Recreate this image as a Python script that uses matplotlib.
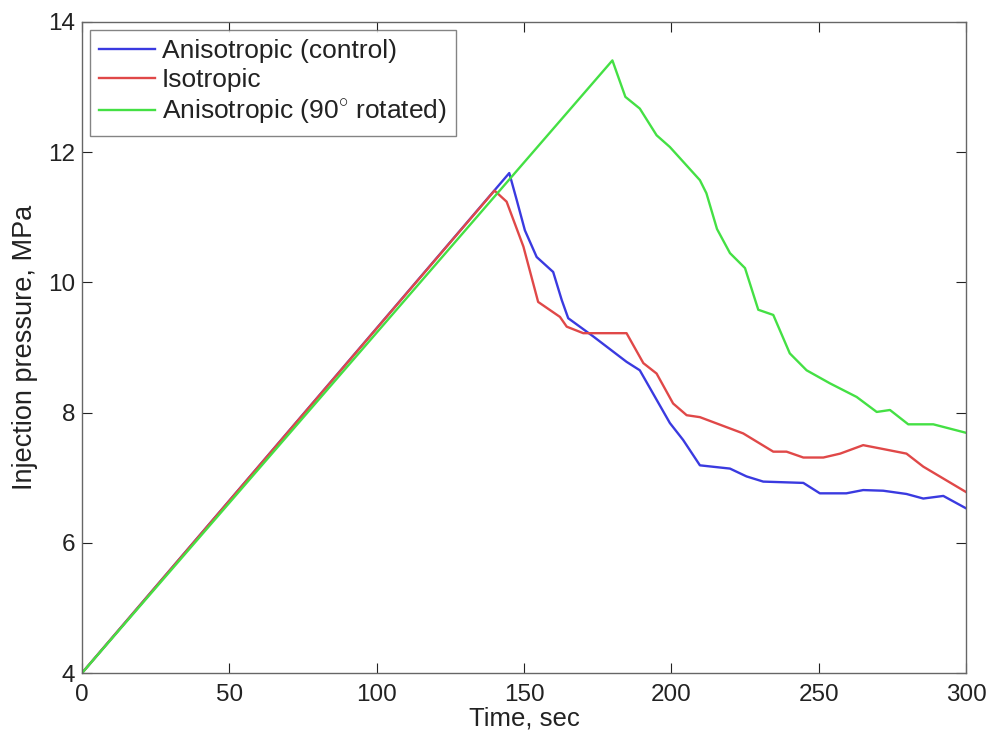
import matplotlib
matplotlib.use("Agg")
import matplotlib.pyplot as plt

plt.rcParams['font.family'] = ['Liberation Sans', 'DejaVu Sans']
plt.rcParams['mathtext.fontset'] = 'custom'
plt.rcParams['mathtext.rm'] = 'Liberation Sans'

# Anisotropic (control)
t_blue = [0, 145, 147.5, 150.3, 154.3, 159.9, 162.8, 165.0, 173.5, 184.8, 189.3,
          199.5, 204, 209.7, 219.9, 225.5, 231.2, 244.8, 250.4, 259.4, 265.1,
          271.9, 279.8, 285.5, 292.3, 300]
p_blue = [4.0, 11.68, 11.27, 10.80, 10.39, 10.16, 9.73, 9.45, 9.17, 8.78, 8.65,
          7.84, 7.58, 7.19, 7.14, 7.02, 6.94, 6.92, 6.76, 6.76, 6.81,
          6.80, 6.75, 6.68, 6.72, 6.53]

# Isotropic
t_red = [0, 140, 144.1, 149.8, 154.8, 162.2, 164.5, 170.1, 184.8, 190.5, 195,
         200.6, 205.2, 209.7, 224.4, 234.6, 239.1, 244.8, 251.6, 257.3, 265.1,
         270.8, 279.8, 285.5, 300]
p_red = [4.0, 11.41, 11.24, 10.55, 9.70, 9.47, 9.32, 9.22, 9.22, 8.76, 8.60,
         8.14, 7.96, 7.93, 7.68, 7.40, 7.40, 7.31, 7.31, 7.37, 7.50,
         7.45, 7.37, 7.17, 6.78]

# Anisotropic (90 deg rotated)
t_green = [0, 180, 184.4, 189.3, 195.0, 199.5, 209.7, 211.9, 215.5, 219.9, 225,
           229.5, 234.6, 240.2, 245.9, 253.8, 262.9, 269.7, 274.2, 280.4, 288.9, 300]
p_green = [4.0, 13.41, 12.85, 12.67, 12.26, 12.08, 11.57, 11.37, 10.82, 10.45, 10.22,
           9.58, 9.50, 8.91, 8.65, 8.45, 8.24, 8.01, 8.04, 7.82, 7.82, 7.69]

labels = ['Anisotropic (control)', 'Isotropic', r'Anisotropic (90$^{\circ}$ rotated)']
x_ticks = [0, 50, 100, 150, 200, 250, 300]
y_ticks = [4, 6, 8, 10, 12, 14]

fig = plt.figure(figsize=(9.91, 7.36), dpi=100)
ax = fig.add_axes([82/991, 1-673/736, (966-82)/991, (673-22)/736])

ax.plot(t_blue, p_blue, color='#3a3ae0', lw=1.7, label=labels[0])
ax.plot(t_red, p_red, color='#e04848', lw=1.7, label=labels[1])
ax.plot(t_green, p_green, color='#44e044', lw=1.7, label=labels[2])

ax.set_xlim(0, 300)
ax.set_ylim(4, 14)
ax.set_xticks(x_ticks)
ax.set_yticks(y_ticks)
ax.tick_params(direction='in', length=7, width=0.8, top=True, right=True,
               labelsize=17.5, colors='#222222')
ax.tick_params(axis='x', pad=8)
ax.tick_params(axis='y', pad=5)
for s in ax.spines.values():
    s.set_color('#666666')
    s.set_linewidth(1.0)

ax.set_xlabel('Time, sec', fontsize=18.5, color='#222222', labelpad=0)
ax.set_ylabel('Injection pressure, MPa', fontsize=19.5, color='#222222', labelpad=7)

leg = ax.legend(loc='upper left', fontsize=19, frameon=True, fancybox=False,
                edgecolor='#666666', borderpad=0.35, labelspacing=0.2,
                handlelength=2.1, handletextpad=0.28, borderaxespad=0.3)
leg.get_frame().set_linewidth(1.0)
for t in leg.get_texts():
    t.set_color('#222222')

fig.savefig('out.png', dpi=100)
